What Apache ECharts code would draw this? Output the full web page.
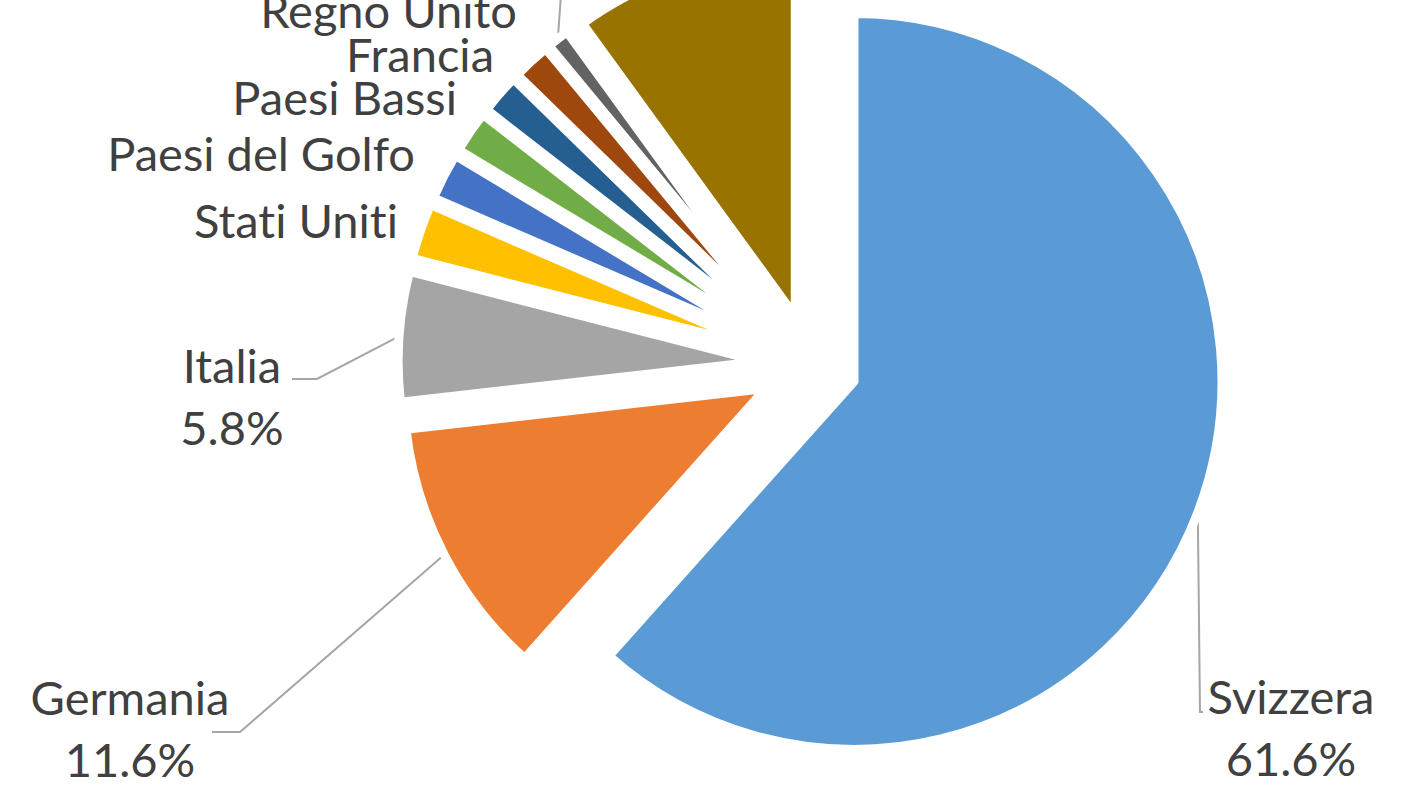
<!DOCTYPE html>
<html>
<head>
<meta charset="utf-8">
<script src="https://cdn.jsdelivr.net/npm/echarts@6/dist/echarts.min.js"></script>
<style>
html,body{margin:0;padding:0;background:#ffffff;}
#chart{width:1408px;height:792px;}
#chart text{font-variant-ligatures:none;font-feature-settings:"liga" 0,"clig" 0,"dlig" 0;}
</style>
</head>
<body>
<div id="chart"></div>
<script>
// ---- data ----
const CATEGORIES = ['Svizzera', 'Germania', 'Italia', 'Stati Uniti', 'Paesi del Golfo',
                    'Paesi Bassi', 'Francia', 'Regno Unito', 'Altro paese', 'Altri'];
const VALUES = [61.6, 11.6, 5.8, 2.5, 2.1, 1.9, 1.8, 1.7, 1.0, 10.0];
const SHOW_PERCENT = [true, true, true, false, false, false, false, false, false, false];

// ---- style / layout ----
const COLORS = ['#5B9BD5', '#ED7D31', '#A5A5A5', '#FFC000', '#4472C4',
                '#70AD47', '#255E91', '#9E480E', '#636363', '#997300'];
const PIE_CENTER = [811, 365];
const EXPLODE = [46, 51, 51, 51, 51, 51, 51, 51, 51, 51];
const RADIUS  = [368, 362, 362, 362, 362, 362, 362, 362, 362, 362];
const LABELS = [
  {x: 1291, y: 727, align: 'center', line: [[1200, 712], [1203, 712]]},
  {x: 130,  y: 728, align: 'center', line: [[240, 732], [212, 732]]},
  {x: 232,  y: 396, align: 'center', line: [[317, 379], [292, 379]]},
  {x: 398,  y: 220, align: 'right'},
  {x: 415,  y: 153, align: 'right'},
  {x: 457,  y: 97,  align: 'right'},
  {x: 494,  y: 54,  align: 'right'},
  {x: 517,  y: 10,  align: 'right'},
  {x: 563,  y: -80, align: 'center', line: [[562, -20], [562, -60]]},
  null
];

const total = VALUES.reduce((a, b) => a + b, 0);
let cum = 0;
const series = VALUES.map((v, i) => {
  const mid = (cum + v / 2) / total * 2 * Math.PI;
  cum += v;
  const cx = PIE_CENTER[0] + EXPLODE[i] * Math.sin(mid);
  const cy = PIE_CENTER[1] - EXPLODE[i] * Math.cos(mid);
  return {
    type: 'pie',
    center: [cx, cy],
    radius: RADIUS[i],
    startAngle: 90,
    clockwise: true,
    silent: true,
    animation: false,
    avoidLabelOverlap: false,
    minShowLabelAngle: 0,
    emphasis: {disabled: true},
    data: CATEGORIES.map((name, j) => ({
      name: name,
      value: VALUES[j],
      itemStyle: j === i
        ? {color: COLORS[j], borderColor: '#ffffff', borderWidth: 9}
        : {color: 'rgba(0,0,0,0)', borderWidth: 0},
      label: {
        show: j === i && LABELS[j] != null,
        lineHeight: SHOW_PERCENT[j] ? 62 : 40
      },
      labelLine: {show: j === i && LABELS[j] != null && !!LABELS[j].line}
    })),
    label: {
      position: 'outside',
      fontFamily: 'Lato',
      fontSize: 47,
      color: '#404040',
      formatter: p => {
        if (p.dataIndex === 8) return ' ';
        return SHOW_PERCENT[p.dataIndex]
          ? p.name + '\n' + VALUES[p.dataIndex].toFixed(1) + '%'
          : p.name;
      }
    },
    labelLine: {length: 20, length2: 20, smooth: false, lineStyle: {color: '#A6A6A6', width: 2}},
    labelLayout: params => {
      const L = LABELS[params.dataIndex];
      if (!L) return {};
      const out = {x: L.x, y: L.y, align: L.align, verticalAlign: 'middle'};
      if (L.line && params.labelLinePoints) {
        out.labelLinePoints = [params.labelLinePoints[0], L.line[0], L.line[1]];
      }
      return out;
    }
  };
});

const chart = echarts.init(document.getElementById('chart'), null, {renderer: 'svg'});
chart.setOption({
  backgroundColor: '#ffffff',
  animation: false,
  series: series
});
</script>
</body>
</html>
